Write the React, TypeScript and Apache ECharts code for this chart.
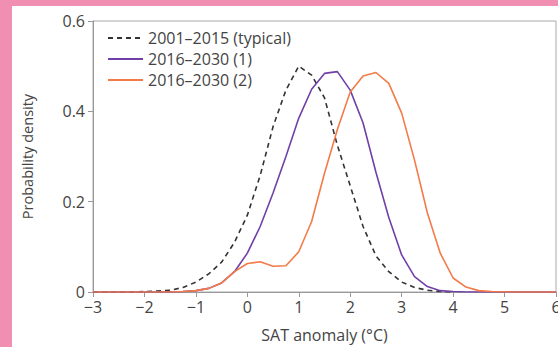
import React, { useEffect, useRef } from "react";
import * as echarts from "echarts";

const xValues = [
  -3, -2.75, -2.5, -2.25, -2, -1.75, -1.5, -1.25, -1, -0.75, -0.5, -0.25, 0, 0.25, 0.5, 0.75, 1, 1.25, 1.5, 1.75,
  2, 2.25, 2.5, 2.75, 3, 3.25, 3.5, 3.75, 4, 4.25, 4.5, 4.75, 5, 5.25, 5.5, 5.75, 6,
];

const typical = [
  0, 0, 0, 0, 0.001, 0.002, 0.004, 0.01, 0.022, 0.04, 0.066, 0.11, 0.17, 0.258, 0.366, 0.447, 0.5, 0.48, 0.43, 0.325,
  0.235, 0.145, 0.08, 0.045, 0.022, 0.01, 0.004, 0.001, 0,
];

const scenario1 = [
  0, 0, 0, 0, 0, 0, 0, 0.001, 0.003, 0.008, 0.02, 0.045, 0.086, 0.145, 0.219, 0.3, 0.385, 0.449, 0.484, 0.488,
  0.447, 0.374, 0.265, 0.165, 0.082, 0.034, 0.012, 0.003, 0.001, 0, 0, 0, 0, 0, 0, 0, 0,
];

const scenario2 = [
  0, 0, 0, 0, 0, 0, 0, 0.001, 0.003, 0.008, 0.02, 0.045, 0.063, 0.067, 0.057, 0.058, 0.089, 0.156, 0.263, 0.36,
  0.443, 0.478, 0.486, 0.462, 0.396, 0.292, 0.175, 0.086, 0.031, 0.011, 0.003, 0.001, 0, 0, 0, 0, 0,
];

const seriesNames = ["2001\u20132015 (typical)", "2016\u20132030 (1)", "2016\u20132030 (2)"];
const xAxisName = "SAT anomaly (\u00B0C)";
const yAxisName = "Probability density";

const FONT = "'Open Sans', 'Noto Sans', sans-serif";

function pairs(vals: number[]) {
  return vals.map((v, i) => [xValues[i], v]);
}

export default function App() {
  const ref = useRef<HTMLDivElement>(null);
  useEffect(() => {
    document.body.style.margin = "0";
    const chart = echarts.init(ref.current!, null, { renderer: "svg" });
    chart.setOption({
      animation: false,
      backgroundColor: "#ffffff",
      textStyle: { fontFamily: FONT },
      graphic: [
        { type: "rect", left: 0, top: 0, shape: { width: 12, height: 347 }, style: { fill: "#f08fb1" }, z: 100 },
        { type: "rect", left: 0, top: 0, shape: { width: 558, height: 6 }, style: { fill: "#f08fb1" }, z: 100 },
      ],
      grid: {
        left: 93,
        right: 2,
        top: 21,
        bottom: 55,
        containLabel: false,
        outerBoundsMode: "none",
        show: true,
        borderColor: "#aaaaaa",
        borderWidth: 1,
        backgroundColor: "transparent",
      },
      legend: {
        orient: "vertical",
        left: 102,
        top: 24,
        itemWidth: 35,
        itemHeight: 10,
        itemGap: 3,
        itemStyle: { opacity: 0 },
        textStyle: { fontFamily: FONT, fontSize: 16, lineHeight: 18, color: "#444444" },
        data: seriesNames,
      },
      xAxis: {
        type: "value",
        min: -3,
        max: 6,
        interval: 1,
        name: xAxisName,
        nameLocation: "middle",
        nameGap: 35,
        nameTextStyle: { fontFamily: FONT, fontSize: 16, color: "#444444" },
        axisLine: { show: true, onZero: false, lineStyle: { color: "#999999", width: 1 } },
        axisTick: { show: true, inside: false, length: 5, lineStyle: { color: "#999999" } },
        axisLabel: {
          fontFamily: FONT,
          fontSize: 16,
          color: "#444444",
          margin: 7,
          formatter: (v: number) => String(v).replace("-", "\u2212"),
        },
        splitLine: { show: false },
      },
      yAxis: {
        type: "value",
        min: 0,
        max: 0.6,
        interval: 0.2,
        name: yAxisName,
        nameLocation: "middle",
        nameGap: 58,
        nameTextStyle: { fontFamily: FONT, fontSize: 14.5, color: "#444444" },
        axisLine: { show: true, onZero: false, lineStyle: { color: "#999999", width: 1 } },
        axisTick: { show: true, inside: false, length: 5, lineStyle: { color: "#999999" } },
        axisLabel: {
          fontFamily: FONT,
          fontSize: 16,
          color: "#444444",
          margin: 8,
          formatter: (v: number) => (v === 0 ? "0" : v.toFixed(1)),
        },
        splitLine: { show: false },
      },
      series: [
        {
          name: seriesNames[0],
          type: "line",
          data: pairs(typical),
          showSymbol: false,
          symbol: "none",
          lineStyle: { color: "#333333", width: 1.6, type: [5, 4] },
          itemStyle: { color: "#333333" },
        },
        {
          name: seriesNames[1],
          type: "line",
          data: pairs(scenario1),
          showSymbol: false,
          symbol: "none",
          lineStyle: { color: "#7040a8", width: 1.6 },
          itemStyle: { color: "#7040a8" },
        },
        {
          name: seriesNames[2],
          type: "line",
          data: pairs(scenario2),
          showSymbol: false,
          symbol: "none",
          lineStyle: { color: "#f47a48", width: 1.6 },
          itemStyle: { color: "#f47a48" },
        },
      ],
    });
    return () => chart.dispose();
  }, []);
  return <div ref={ref} style={{ width: 558, height: 347 }} />;
}
